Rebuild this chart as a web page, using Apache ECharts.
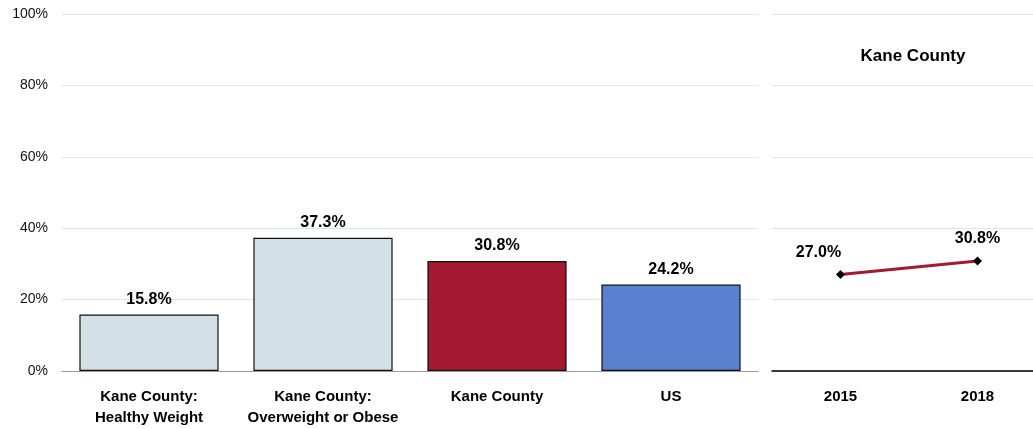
<!DOCTYPE html>
<html><head><meta charset="utf-8">
<script src="https://cdn.jsdelivr.net/npm/echarts@6/dist/echarts.min.js"></script>
<style>html,body{margin:0;padding:0;background:#fff}#c{width:1033px;height:429px}</style>
</head><body><div id="c"></div>
<script>
const barCategories = ['Kane County:\nHealthy Weight', 'Kane County:\nOverweight or Obese', 'Kane County', 'US'];
const barValues = [15.8, 37.3, 30.8, 24.2];
const barColors = ['#d3e0e5', '#d3e0e5', '#a31a30', '#5a80d0'];
const trendYears = ['2015', '2018'];
const trendValues = [27.0, 30.8];
const trendTitle = 'Kane County';
const yTicks = [0, 20, 40, 60, 80, 100];

const FONT = '"Liberation Sans Narrow", "Liberation Sans", Arial, sans-serif';
const chart = echarts.init(document.getElementById('c'));
chart.setOption({
  animation: false,
  title: { text: trendTitle, left: 908, top: 43, textAlign: 'center',
    textStyle: { fontFamily: FONT, fontSize: 17, fontWeight: 'bold', color: '#000' } },
  grid: [
    { left: 62, width: 696, top: 14, height: 357, outerBoundsMode: 'none' },
    { left: 772, width: 274, top: 14, height: 357, outerBoundsMode: 'none' }
  ],
  xAxis: [
    { type: 'category', gridIndex: 0, data: barCategories,
      axisLine: { lineStyle: { color: '#999', width: 1 } }, axisTick: { show: false },
      axisLabel: { interval: 0, fontFamily: FONT, fontSize: 15, fontWeight: 'bold', color: '#000', margin: 15, lineHeight: 21 } },
    { type: 'category', gridIndex: 1, data: trendYears,
      axisLine: { lineStyle: { color: '#000', width: 1.5 } }, axisTick: { show: false },
      axisLabel: { interval: 0, fontFamily: FONT, fontSize: 15, fontWeight: 'bold', color: '#000', margin: 18 } }
  ],
  yAxis: [
    { type: 'value', gridIndex: 0, min: 0, max: 100, interval: 20,
      axisLabel: { formatter: v => yTicks.includes(v) ? v + '%' : '', fontFamily: FONT, fontSize: 14, color: '#111', margin: 14 },
      axisLine: { show: false }, axisTick: { show: false },
      splitLine: { lineStyle: { color: '#e3e3e3', width: 1 } } },
    { type: 'value', gridIndex: 1, min: 0, max: 100, interval: 20,
      axisLabel: { show: false }, axisLine: { show: false }, axisTick: { show: false },
      splitLine: { lineStyle: { color: '#e3e3e3', width: 1 } } }
  ],
  series: [
    { type: 'bar', xAxisIndex: 0, yAxisIndex: 0, barWidth: '80%',
      data: barValues.map((v, i) => ({ value: v, itemStyle: { color: barColors[i], borderColor: '#111', borderWidth: 1.2 } })),
      label: { show: true, position: 'top', distance: 7, formatter: p => p.value.toFixed(1) + '%',
        fontFamily: FONT, fontSize: 16, fontWeight: 'bold', color: '#000' } },
    { type: 'line', xAxisIndex: 1, yAxisIndex: 1,
      data: trendValues.map((v, i) => ({ value: v, label: { offset: i === 0 ? [-22, 0] : [0, 0] } })),
      lineStyle: { color: '#a31a30', width: 3 },
      symbol: 'diamond', symbolSize: 9, itemStyle: { color: '#000' },
      label: { show: true, position: 'top', distance: 10, formatter: p => p.value.toFixed(1) + '%',
        fontFamily: FONT, fontSize: 16, fontWeight: 'bold', color: '#000' } }
  ]
});
</script></body></html>
